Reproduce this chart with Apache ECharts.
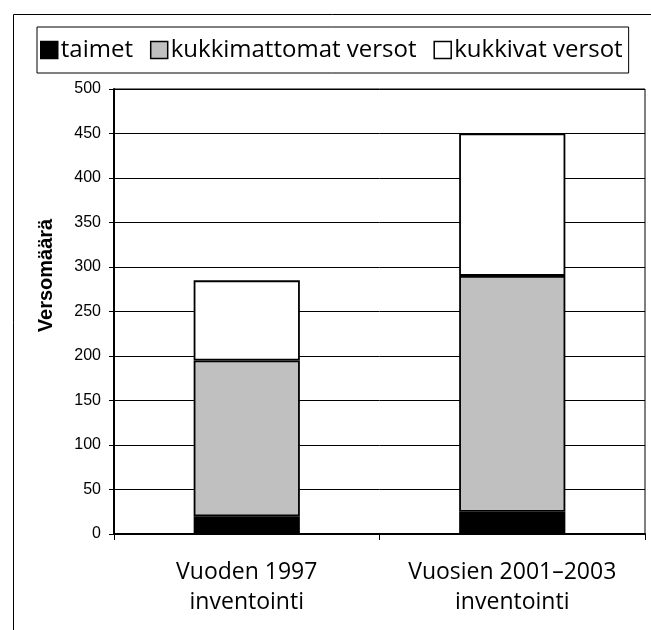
<!DOCTYPE html>
<html>
<head>
<meta charset="utf-8">
<script src="https://cdn.jsdelivr.net/npm/echarts@6/dist/echarts.min.js"></script>
<style>html,body{margin:0;padding:0;background:#fff}#c{width:651px;height:630px}</style>
</head>
<body>
<div id="c"></div>
<script>
const categories = ['Vuoden 1997\ninventointi', 'Vuosien 2001–2003\ninventointi'];
const taimet = [20, 25];
const kukkimattomat = [175, 265];
const kukkivat = [90, 160];
const seriesNames = ['taimet', 'kukkimattomat versot', 'kukkivat versot'];
const seriesColors = ['#000000', '#c0c0c0', '#ffffff'];
const yTicks = { min: 0, max: 500, interval: 50 };
const yTitle = 'Versomäärä';

const chart = echarts.init(document.getElementById('c'), null, { renderer: 'canvas' });
const font = 'Open Sans';
const dataSets = [taimet, kukkimattomat, kukkivat];
chart.setOption({
  animation: false,
  backgroundColor: '#fff',
  graphic: [{
    type: 'rect', left: 11, top: 12, silent: true, z: -1,
    shape: { width: 700, height: 700 },
    style: { fill: 'none', stroke: '#000', lineWidth: 1 }
  }],
  legend: {
    left: 37, top: 27, width: 591,
    padding: [11, 6, 11, 3],
    borderColor: '#000', borderWidth: 1,
    itemWidth: 17, itemHeight: 17, itemGap: 17,
    icon: 'rect',
    textStyle: { fontFamily: font, fontSize: 24, color: '#000', padding: [0, 0, 0, -2] },
    itemStyle: { borderColor: '#000', borderWidth: 1.5 },
    data: seriesNames
  },
  grid: { left: 114, right: 6, top: 89, bottom: 96, show: true, borderColor: '#000', borderWidth: 1, containLabel: false, outerBoundsMode: 'none' },
  xAxis: {
    type: 'category', data: categories,
    axisLine: { show: true, lineStyle: { color: '#000', width: 2 } },
    axisTick: { show: true, length: 6, interval: 0, lineStyle: { color: '#000' } },
    axisLabel: { fontFamily: font, fontSize: 23, color: '#000', lineHeight: 30, margin: 23, interval: 0 }
  },
  yAxis: {
    type: 'value', min: yTicks.min, max: yTicks.max, interval: yTicks.interval,
    name: yTitle, nameLocation: 'middle', nameGap: 58, nameRotate: 90,
    nameTextStyle: { fontFamily: 'Liberation Sans', fontWeight: 'bold', fontSize: 20, color: '#000', padding: [0, 0, 0, 72] },
    axisLine: { show: true, lineStyle: { color: '#000', width: 2 } },
    axisTick: { show: true, length: 5, lineStyle: { color: '#000' } },
    axisLabel: { fontFamily: 'Liberation Sans', fontSize: 16, color: '#000', margin: 13 },
    splitLine: { show: true, lineStyle: { color: '#000', width: 1 } }
  },
  series: seriesNames.map((n, i) => ({
    name: n, type: 'bar', stack: 'total', barWidth: '40%',
    data: dataSets[i],
    itemStyle: { color: seriesColors[i], borderColor: '#000', borderWidth: 1.8 }
  }))
});
</script>
</body>
</html>
